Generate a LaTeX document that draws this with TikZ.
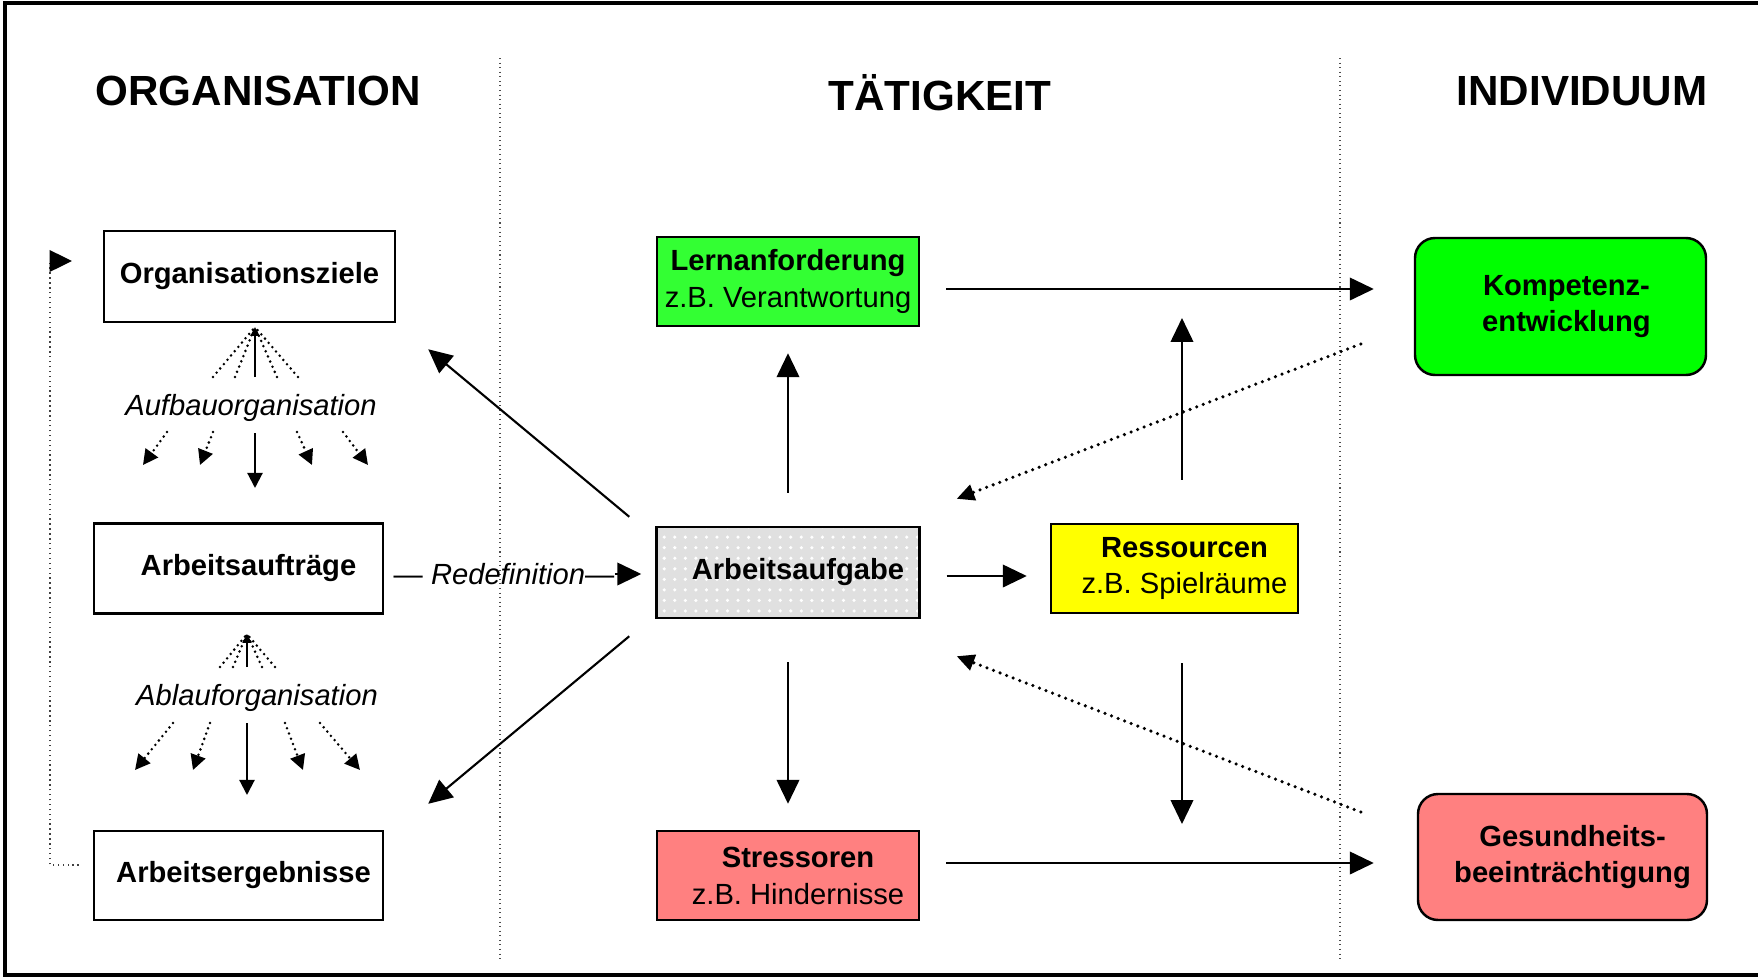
\documentclass[tikz,border=0pt]{standalone}
\usepackage{fontspec}
\setmainfont{Liberation Sans}
\usetikzlibrary{calc,arrows.meta,patterns}

\definecolor{lerngruen}{RGB}{51,255,51}
\definecolor{kompgruen}{RGB}{0,255,0}
\definecolor{stressrot}{RGB}{255,128,128}
\definecolor{ressgelb}{RGB}{255,255,0}
\newcommand{\einzug}[1][2mm]{\hspace*{#1}}

\begin{document}
\begin{tikzpicture}[x=0.1mm, y=-0.1mm,
    kasten/.style={draw, line width=0.7pt, align=center, inner sep=0pt,
        font=\fontsize{8.3}{10.5}\selectfont},
    titel/.style={anchor=base, inner sep=0pt, font=\bfseries\fontsize{12}{14}\selectfont},
    pfeil/.style={draw, line width=0.6pt, -{Triangle[length=6.8pt,width=6.4pt]}},
    punktpfeil/.style={draw, line width=1pt, line cap=round, dash pattern=on 0pt off 2pt,
        -{Triangle[length=5pt,width=4.6pt]}},
    facher/.style={draw, line width=0.8pt, line cap=round, dash pattern=on 0pt off 1.6pt},
    kleinspitze/.style={-{Triangle[length=4.3pt,width=4.3pt]}},
    trenner/.style={draw, line width=0.3pt, densely dotted, black!70}]

    \useasboundingbox (0,0) rectangle (1758,980);
    \path[draw, line width=1pt] (1770,3) -- (5,3) -- (5,975) -- (1770,975);

    \path[trenner] (500,58) -- (500,962);
    \path[trenner] (1340,58) -- (1340,962);

    \node[titel] (torg) at (258,105) {ORGANISATION};
    \node[titel] (ttaet) at (940,110) {TÄTIGKEIT};
    \node[titel] (tind) at (1582,105) {INDIVIDUUM};

    \node[kasten, minimum width=29.1mm, minimum height=9.1mm] (orgziele) at (249.5,276.5) {\textbf{Organisationsziele}};
    \node[kasten, minimum width=28.9mm, minimum height=9mm] (auftraege) at (238.5,568.5) {\einzug\textbf{Arbeitsaufträge}};
    \node[kasten, minimum width=28.9mm, minimum height=8.9mm] (ergebnisse) at (238.5,875.5) {\einzug[1mm]\textbf{Arbeitsergebnisse}};

    \node[kasten, fill=lerngruen, minimum width=26.2mm, minimum height=8.9mm] (lernanf) at (788,281.5) {\textbf{Lernanforderung}\\z.B. Verantwortung};
    \node[kasten, preaction={fill=black!12}, pattern=dots, pattern color=white, minimum width=26.3mm, minimum height=9.1mm] (aufgabe) at (788,572.5) {\einzug\textbf{Arbeitsaufgabe}};
    \node[kasten, fill=stressrot, minimum width=26.2mm, minimum height=8.9mm] (stressoren) at (788,875.5) {\einzug\textbf{Stressoren}\\\einzug z.B. Hindernisse};
    \node[kasten, fill=ressgelb, minimum width=24.7mm, minimum height=8.9mm] (ressourcen) at (1174.5,568.5) {\einzug\textbf{Ressourcen}\\\einzug z.B. Spielräume};

    \node[kasten, fill=kompgruen, rounded corners=2mm, minimum width=29.1mm, minimum height=13.7mm] (kompetenz) at (1560.5,306.5) {\einzug[1.2mm]\textbf{Kompetenz-}\\\einzug[1.2mm]\textbf{entwicklung}};
    \node[kasten, fill=stressrot, rounded corners=2mm, minimum width=28.9mm, minimum height=12.6mm] (gesundheit) at (1562.5,857) {\einzug\textbf{Gesundheits-}\\\einzug\textbf{beeinträchtigung}};

    \coordinate (aufbauspitze) at (255,327);
    \node[font=\itshape\fontsize{8.3}{10}\selectfont] (aufbau) at (251,408) {Aufbauorganisation};
    \foreach \x in {213,235,277,298}
        \path[facher] (\x,377) -- (aufbauspitze);
    \path[draw, line width=0.6pt, -{Triangle[length=2.5pt,width=2.5pt]}] (255,377) -- (aufbauspitze);
    \foreach \a/\b in {167/143, 213/200, 297/312, 343/368}
        \path[facher, kleinspitze] (\a,432) -- (\b,465);
    \path[draw, line width=0.6pt, kleinspitze] (255,433) -- (255,488);

    \coordinate (ablaufspitze) at (247,634);
    \node[font=\itshape\fontsize{8.3}{10}\selectfont] (ablauf) at (257,698) {Ablauforganisation};
    \foreach \x in {220,233,262,275}
        \path[facher] (\x,667) -- (ablaufspitze);
    \path[draw, line width=0.6pt, -{Triangle[length=2.5pt,width=2.5pt]}] (247,667) -- (ablaufspitze);
    \foreach \a/\b in {173/135, 210/193, 285/303, 320/360}
        \path[facher, kleinspitze] (\a,723) -- (\b,770);
    \path[draw, line width=0.6pt, kleinspitze] (247,723) -- (247,795);

    \node[inner sep=0pt, font=\fontsize{8.3}{10}\selectfont] (redef) at (504,574) {— \textit{Redefinition}—};
    \path[pfeil, shorten >=1.4mm] (redef.east) -- (redef.east -| aufgabe.west);

    \coordinate (rueckziel) at (72,261);
    \path[draw, line width=0.4pt, densely dotted, black!75, -{Triangle[length=6.4pt,width=6.2pt,black]}]
        ($(ergebnisse.west)+(-14,-10.5)$) -| ($(rueckziel)+(-22,0)$) -- (rueckziel);

    \coordinate (oben) at ($(lernanf.east)+(0,7.5)$);
    \coordinate (unten) at ($(stressoren.east)+(0,-12.5)$);
    \coordinate (mitte) at ($(aufgabe.east)+(0,3.5)$);
    \coordinate (ressoben) at ($(ressourcen.north)+(7.5,0)$);
    \coordinate (ressunten) at ($(ressourcen.south)+(7.5,0)$);
    \path[pfeil, shorten <=2.6mm, shorten >=4mm] (oben) -- (oben -| kompetenz.west);
    \path[pfeil, shorten <=2.6mm, shorten >=4.3mm] (unten) -- (unten -| gesundheit.west);
    \path[pfeil, shorten <=2.6mm, shorten >=2.3mm] (mitte) -- (mitte -| ressourcen.west);
    \path[pfeil, shorten <=3.3mm, shorten >=2.6mm] (aufgabe.north) -- (lernanf.south);
    \path[pfeil, shorten <=4.3mm, shorten >=2.6mm] (aufgabe.south) -- (stressoren.north);
    \path[pfeil, shorten <=4.3mm, shorten >=2.9mm] (ressoben) -- (ressoben |- oben);
    \path[pfeil, shorten <=4.9mm, shorten >=3.9mm] (ressunten) -- (ressunten |- unten);

    \path[pfeil] ($(aufgabe.north west)+(-26,-9)$) -- ($(orgziele.south east)+(32,26)$);
    \path[pfeil] ($(aufgabe.south west)+(-26,17)$) -- ($(ergebnisse.north east)+(44,-26)$);

    \path[punktpfeil] ($(kompetenz.west)+(-53,37.5)$) -- ($(aufgabe.north east)+(36,-27)$);
    \path[punktpfeil] ($(gesundheit.west)+(-56,-45)$) -- ($(aufgabe.south east)+(36,37)$);
\end{tikzpicture}
\end{document}
